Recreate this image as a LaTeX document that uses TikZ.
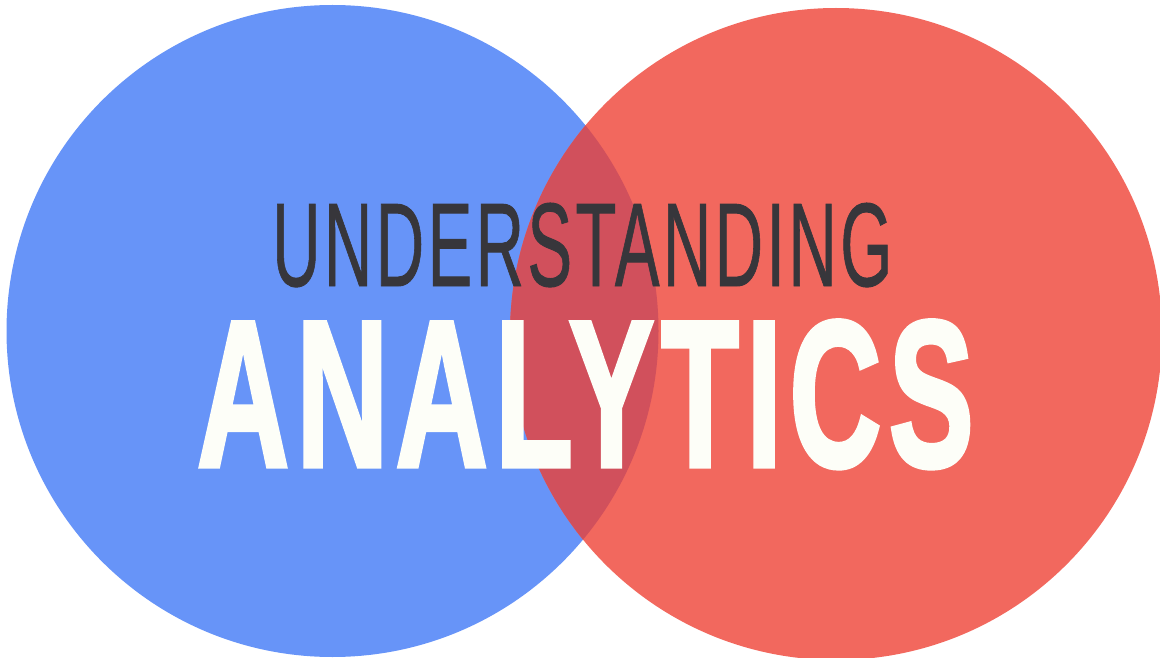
\documentclass[tikz,border=0pt]{standalone}
\usepackage{fontspec}
\setmainfont{Liberation Sans}
\newfontfamily\thinword{Liberation Sans}[FakeBold=0.8,LetterSpace=5]
\newfontfamily\heavyword{Liberation Sans Bold}[FakeBold=2.5,LetterSpace=6]
\usepackage{tikz}

\definecolor{vennBlue}{HTML}{6794F8}
\definecolor{vennRed}{HTML}{F2685E}
\definecolor{vennBoth}{HTML}{D1505C}
\definecolor{titleDark}{HTML}{37363B}
\definecolor{titleLight}{HTML}{FDFEF8}

\begin{document}
\begin{tikzpicture}
[x=1pt,y=-1pt,%
  discDecorate/.style={shape=circle,inner sep=0pt,minimum size=652pt},%
  wordDecorate/.style={inner sep=0pt,anchor=base west}]
\useasboundingbox (0,0) rectangle (1160,658);
%%
%% the two sets
\foreach \nodename/\x/\y/\col in {
  blue/332.5/331/vennBlue, red/836/334/vennRed}
{
  \node (\nodename) at (\x,\y) [discDecorate,fill=\col] {};
}
%% where they overlap
\begin{scope}
  \clip (blue.center) circle (326);
  \fill[vennBoth] (red.center) circle (326);
\end{scope}
%%
%% title
\node (upper) at (272,286) [wordDecorate,text=titleDark]
  {\resizebox{620pt}{83pt}{\thinword UNDERSTANDING}};
\node (lower) at (197,466) [wordDecorate,text=titleLight]
  {\resizebox{776pt}{145pt}{\heavyword ANALYTICS}};
\end{tikzpicture}
\end{document}
